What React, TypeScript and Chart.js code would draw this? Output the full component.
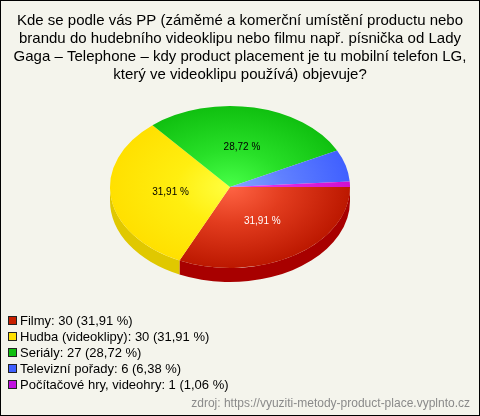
import React, { useEffect, useRef } from "react";
import { Chart, registerables } from "chart.js";

Chart.register(...registerables);

const titleLines = [
  "Kde se podle vás PP (záměmé a komerční umístění productu nebo",
  "brandu do hudebního videoklipu nebo filmu např. písnička od Lady",
  "Gaga – Telephone – kdy product placement je tu mobilní telefon LG,",
  "který ve videoklipu používá) objevuje?",
];
const categories = [
  "Filmy",
  "Hudba (videoklipy)",
  "Seriály",
  "Televizní pořady",
  "Počítačové hry, videohry",
];
const counts = [30, 30, 27, 6, 1];
const topInner = ["#ff6444", "#ffff40", "#48ff48", "#88a8ff", "#f040f0"];
const topMid = ["#e23c1e", "#ffee10", "#28e028", "#6080ff", "#e028e0"];
const topOuter = ["#bc1800", "#ffe000", "#10c010", "#4060ff", "#d010d0"];
const sideColors = ["#a80000", "#e0c800", "#089008", "#2040c0", "#a000a0"];
const legendColors = ["#c82000", "#ffe000", "#10c010", "#4060ff", "#c010e0"];
const labelColors = ["#ffffff", "#000000", "#000000", "#000000", "#000000"];
const sourceText = "zdroj: https://vyuziti-metody-product-place.vyplnto.cz";

const W = 480;
const H = 416;
const KY = 0.675;
const DEPTH = 14;
const FONT = "'Liberation Sans', Arial, sans-serif";

const total = counts.reduce((a, b) => a + b, 0);
const pctText = (v: number) => ((v / total) * 100).toFixed(2).replace(".", ",") + " %";

const pie3d = {
  id: "pie3d",
  beforeDraw(chart: any) {
    const ctx = chart.ctx as CanvasRenderingContext2D;
    ctx.save();
    ctx.fillStyle = "#f4f4ec";
    ctx.fillRect(0, 0, W, H);
    ctx.strokeStyle = "#000";
    ctx.lineWidth = 1;
    ctx.strokeRect(0.5, 0.5, W - 1, H - 1);
    ctx.fillStyle = "#000";
    ctx.font = `15px ${FONT}`;
    ctx.textAlign = "center";
    ctx.textBaseline = "alphabetic";
    titleLines.forEach((l, i) => ctx.fillText(l, 240, 25 + i * 18));
    ctx.textAlign = "left";
    ctx.font = `13px ${FONT}`;
    categories.forEach((c, i) => {
      const y = 316 + i * 16;
      ctx.fillStyle = legendColors[i];
      ctx.fillRect(8, y, 9, 9);
      ctx.strokeStyle = "#222";
      ctx.strokeRect(8.5, y + 0.5, 8, 8);
      ctx.fillStyle = "#000";
      ctx.fillText(`${c}: ${counts[i]} (${pctText(counts[i])})`, 20, y + 9);
    });
    ctx.textAlign = "right";
    ctx.font = `12px ${FONT}`;
    ctx.fillStyle = "#8a8a8a";
    ctx.fillText(sourceText, 470, 407);
    ctx.restore();
  },
  beforeDatasetsDraw(chart: any) {
    const ctx = chart.ctx as CanvasRenderingContext2D;
    const arcs = chart.getDatasetMeta(0).data;
    if (!arcs.length) return;
    const { x: cx, y: cy, outerRadius: r } = arcs[0].getProps(["x", "y", "outerRadius"], true);
    const ry = r * KY;
    arcs.forEach((arc: any, i: number) => {
      const { startAngle, endAngle } = arc.getProps(["startAngle", "endAngle"], true);
      const a = Math.max(startAngle, 0);
      const b = Math.min(endAngle, Math.PI);
      if (b > a) {
        ctx.beginPath();
        ctx.ellipse(cx, cy, r, ry, 0, a, b);
        ctx.ellipse(cx, cy + DEPTH, r, ry, 0, b, a, true);
        ctx.closePath();
        ctx.fillStyle = sideColors[i];
        ctx.fill();
      }
    });
    ctx.save();
    ctx.translate(cx, cy);
    ctx.scale(1, KY);
    ctx.translate(-cx, -cy);
  },
  afterDatasetsDraw(chart: any) {
    const ctx = chart.ctx as CanvasRenderingContext2D;
    ctx.restore();
    const arcs = chart.getDatasetMeta(0).data;
    ctx.save();
    ctx.font = `10px ${FONT}`;
    ctx.textAlign = "center";
    ctx.textBaseline = "middle";
    arcs.forEach((arc: any, i: number) => {
      const pct = (counts[i] / total) * 100;
      if (pct < 10) return;
      const { x, y, startAngle, endAngle, outerRadius } = arc.getProps(
        ["x", "y", "startAngle", "endAngle", "outerRadius"],
        true
      );
      const mid = (startAngle + endAngle) / 2;
      const px = x + Math.cos(mid) * outerRadius * 0.5;
      const py = y + Math.sin(mid) * outerRadius * 0.5 * KY;
      ctx.fillStyle = labelColors[i];
      ctx.fillText(pctText(counts[i]), px, py);
    });
    ctx.restore();
  },
};

export default function App() {
  const ref = useRef<HTMLCanvasElement | null>(null);
  useEffect(() => {
    if (!ref.current) return;
    const chart = new Chart(ref.current, {
      type: "pie",
      data: {
        labels: categories,
        datasets: [
          {
            data: counts,
            backgroundColor: (c: any) => {
              const i = c.dataIndex ?? 0;
              const ca = c.chart.chartArea;
              if (!ca) return topOuter[i];
              const cx = (ca.left + ca.right) / 2;
              const cy = (ca.top + ca.bottom) / 2;
              const r = Math.min(ca.width, ca.height) / 2;
              const g = c.chart.ctx.createRadialGradient(cx, cy, 0, cx, cy, r);
              g.addColorStop(0, topInner[i]);
              g.addColorStop(0.45, topMid[i]);
              g.addColorStop(1, topOuter[i]);
              return g;
            },
            borderWidth: 0,
            hoverOffset: 0,
            offset: 0,
            clip: false,
          } as any,
        ],
      },
      options: {
        responsive: false,
        animation: false,
        rotation: 90,
        events: [],
        layout: { padding: { left: 110, right: 130, top: 67, bottom: 109 } },
        plugins: { legend: { display: false }, tooltip: { enabled: false }, title: { display: false } },
      },
      plugins: [pie3d],
    });
    return () => chart.destroy();
  }, []);
  return (
    <div style={{ position: "absolute", left: 0, top: 0, width: W, height: H }}>
      <canvas ref={ref} width={W} height={H} style={{ display: "block" }} />
    </div>
  );
}
